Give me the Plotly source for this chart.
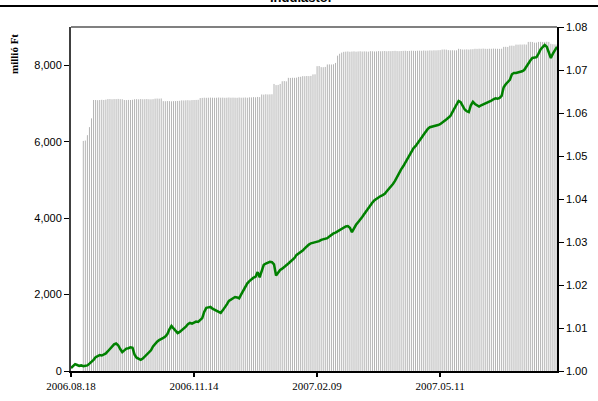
import plotly.graph_objects as go

# ---- data ----
title_text = "Indulástól"
y_left_title = "millió Ft"
tick_labels = ["2006.08.18", "2006.11.14", "2007.02.09", "2007.05.11"]
tick_index = [0, 60, 120, 180]

# fund size (millió Ft), one bar per trading day (first days without data)
fund_size = [
    None, None, None, None, None, None, 6020, 6030, 6170, 6380,
    6610, 7090, 7090, 7085, 7090, 7095, 7090, 7100, 7114, 7115,
    7110, 7115, 7114, 7118, 7112, 7110, 7090, 7088, 7092, 7090,
    7095, 7110, 7112, 7108, 7115, 7110, 7112, 7115, 7110, 7108,
    7112, 7125, 7128, 7125, 7130, 7060, 7058, 7062, 7060, 7055,
    7060, 7062, 7065, 7070, 7080, 7078, 7082, 7085, 7080, 7088,
    7090, 7092, 7095, 7140, 7145, 7150, 7148, 7150, 7152, 7150,
    7148, 7150, 7155, 7150, 7152, 7148, 7150, 7155, 7150, 7152,
    7150, 7148, 7155, 7150, 7152, 7155, 7150, 7160, 7158, 7165,
    7160, 7170, 7165, 7235, 7230, 7240, 7235, 7238, 7240, 7510,
    7480, 7485, 7510, 7580, 7585, 7578, 7670, 7668, 7672, 7670,
    7675, 7695, 7698, 7715, 7712, 7718, 7715, 7720, 7760, 7762,
    7975, 7980, 7950, 7948, 7955, 8020, 8022, 8018, 8025, 8060,
    8250, 8300, 8330, 8350, 8355, 8360, 8352, 8358, 8362, 8355,
    8360, 8365, 8358, 8362, 8360, 8355, 8368, 8365, 8360, 8362,
    8370, 8365, 8368, 8372, 8365, 8370, 8368, 8372, 8375, 8370,
    8368, 8372, 8375, 8378, 8372, 8375, 8380, 8378, 8375, 8380,
    8382, 8378, 8385, 8380, 8382, 8388, 8385, 8390, 8388, 8392,
    8395, 8410, 8412, 8408, 8395, 8390, 8392, 8388, 8390, 8430,
    8420, 8410, 8412, 8415, 8410, 8418, 8420, 8430, 8428, 8432,
    8430, 8435, 8430, 8428, 8432, 8430, 8435, 8432, 8430, 8428,
    8432, 8480, 8482, 8478, 8510, 8512, 8508, 8540, 8538, 8542,
    8540, 8545, 8540, 8610, 8612, 8608, 8590, 8592, 8610, 8612,
    8608, 8610, 8615, 8610, 8560, 8550, 8545, 8540,
]

# unit price (árfolyam), right axis
unit_price = [
    1.0007, 1.0012, 1.0016, 1.0014, 1.0012, 1.0013, 1.0011, 1.0012, 1.0013, 1.0017,
    1.0021, 1.0026, 1.0032, 1.0035, 1.0037, 1.0036, 1.0038, 1.0041, 1.0046, 1.0051,
    1.0056, 1.0062, 1.0064, 1.0060, 1.0051, 1.0044, 1.0048, 1.0052, 1.0053, 1.0055,
    1.0054, 1.0038, 1.0031, 1.0028, 1.0026, 1.0029, 1.0034, 1.0039, 1.0044, 1.0048,
    1.0057, 1.0064, 1.0068, 1.0072, 1.0074, 1.0077, 1.0080, 1.0086, 1.0097, 1.0105,
    1.0099, 1.0092, 1.0088, 1.0091, 1.0095, 1.0097, 1.0103, 1.0109, 1.0112, 1.0110,
    1.0113, 1.0115, 1.0114, 1.0118, 1.0123, 1.0138, 1.0147, 1.0148, 1.0149, 1.0145,
    1.0142, 1.0139, 1.0136, 1.0135, 1.0141, 1.0147, 1.0155, 1.0163, 1.0166, 1.0169,
    1.0172, 1.0171, 1.0169, 1.0178, 1.0187, 1.0196, 1.0204, 1.0209, 1.0214, 1.0217,
    1.0219, 1.0230, 1.0218, 1.0232, 1.0247, 1.0250, 1.0253, 1.0254, 1.0253, 1.0248,
    1.0222, 1.0228, 1.0235, 1.0238, 1.0241, 1.0246, 1.0250, 1.0254, 1.0258, 1.0263,
    1.0270, 1.0273, 1.0276, 1.0280, 1.0285, 1.0290, 1.0294, 1.0297, 1.0298, 1.0299,
    1.0300, 1.0302, 1.0305, 1.0306, 1.0308, 1.0309, 1.0313, 1.0317, 1.0320, 1.0322,
    1.0325, 1.0328, 1.0331, 1.0334, 1.0336, 1.0337, 1.0333, 1.0323, 1.0333, 1.0340,
    1.0346, 1.0351, 1.0358, 1.0365, 1.0372, 1.0380, 1.0386, 1.0392, 1.0397, 1.0401,
    1.0404, 1.0407, 1.0409, 1.0412, 1.0418, 1.0423, 1.0429, 1.0435, 1.0442, 1.0452,
    1.0461, 1.0469, 1.0476, 1.0485, 1.0494, 1.0503, 1.0512, 1.0518, 1.0523, 1.0529,
    1.0536, 1.0543, 1.0550, 1.0557, 1.0563, 1.0567, 1.0568, 1.0570, 1.0570, 1.0572,
    1.0574, 1.0577, 1.0581, 1.0585, 1.0589, 1.0593, 1.0602, 1.0611, 1.0620, 1.0628,
    1.0625, 1.0617, 1.0608, 1.0604, 1.0602, 1.0618, 1.0626, 1.0621, 1.0617, 1.0615,
    1.0618, 1.0620, 1.0622, 1.0624, 1.0626, 1.0629, 1.0632, 1.0634, 1.0633, 1.0635,
    1.0640, 1.0660, 1.0667, 1.0672, 1.0677, 1.0690, 1.0693, 1.0693, 1.0694, 1.0695,
    1.0697, 1.0700, 1.0708, 1.0716, 1.0722, 1.0728, 1.0729, 1.0730, 1.0738, 1.0748,
    1.0753, 1.0758, 1.0754, 1.0740, 1.0728, 1.0738, 1.0747, 1.0754,
]

W, H = 598, 401
L, R, T, B = 71, 41, 27, 30
PH = H - T - B
PW = W - L - R

# thin bars drawn as vertical 1px segments (plotly widens sub-2px bar rects)
bx, by = [], []
for i, v in enumerate(fund_size):
    if v is None:
        continue
    bx += [i, i, None]
    by += [0, v, None]

fig = go.Figure()
fig.add_trace(go.Scatter(
    x=bx, y=by, mode="lines",
    line=dict(color="#b4b4b4", width=1),
    yaxis="y", showlegend=False, hoverinfo="skip",
))
fig.add_trace(go.Scatter(
    x=list(range(len(unit_price))), y=unit_price, mode="lines",
    line=dict(color="#008000", width=2.5),
    yaxis="y2", showlegend=False,
))

fig.update_layout(
    width=W, height=H,
    margin=dict(l=L, r=R, t=T, b=B, autoexpand=False),
    paper_bgcolor="white", plot_bgcolor="white",
    xaxis=dict(
        range=[0, len(unit_price) - 1], showgrid=False, zeroline=False,
        tickmode="array", tickvals=tick_index, ticktext=tick_labels,
        ticks="outside", ticklen=4, tickwidth=2, tickcolor="black",
        showline=True, linecolor="black", linewidth=2,
        tickfont=dict(family="Liberation Serif", size=11, color="black"),
    ),
    yaxis=dict(
        range=[0, 9000], showgrid=False, zeroline=False,
        tickvals=[0, 2000, 4000, 6000, 8000], tickformat=",",
        ticks="outside", ticklen=5, tickwidth=1, tickcolor="black",
        showline=True, linecolor="#404040", linewidth=2,
        tickfont=dict(family="Liberation Sans", size=11, color="black"),
    ),
    yaxis2=dict(
        range=[1.0, 1.08], overlaying="y", side="right",
        showgrid=False, zeroline=False, dtick=0.01, tickformat=".2f",
        ticks="outside", ticklen=5, tickwidth=1, tickcolor="black",
        showline=True, linecolor="black", linewidth=1.5,
        tickfont=dict(family="Liberation Sans", size=11, color="black"),
    ),
    shapes=[
        dict(type="line", xref="paper", yref="paper", x0=0, x1=1, y0=1, y1=1,
             line=dict(color="#808080", width=2)),
        dict(type="line", xref="paper", yref="paper",
             x0=-L / PW, x1=(W - L) / PW,
             y0=(H - B - 6) / PH, y1=(H - B - 6) / PH,
             line=dict(color="black", width=2)),
    ],
    annotations=[
        dict(text="<b>" + title_text + "</b>", xref="paper", yref="paper",
             x=(300 - L) / PW, y=(H - B - 7) / PH, xanchor="center", yanchor="bottom",
             showarrow=False, font=dict(family="Liberation Sans", size=13, color="black")),
        dict(text="<b>" + y_left_title + "</b>", xref="paper", yref="paper",
             x=(14 - L) / PW, y=(H - B - 54) / PH, xanchor="center", yanchor="middle",
             textangle=-90, showarrow=False,
             font=dict(family="Liberation Serif", size=11, color="black")),
    ],
)

fig.write_html(
    "out.html",
    config={"displayModeBar": False},
    post_script="document.body.style.margin='0';document.body.style.padding='0';document.body.style.overflow='hidden';",
)
